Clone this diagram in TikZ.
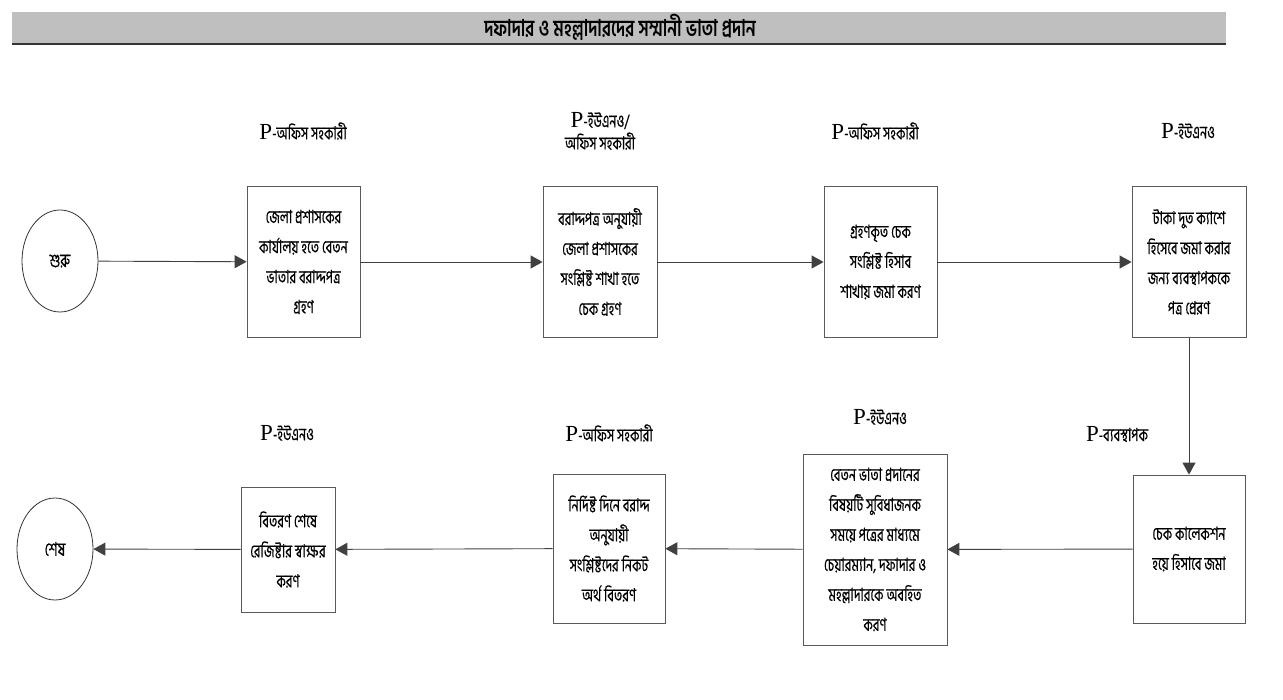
\documentclass[tikz,border=0pt]{standalone}
\usepackage{fontspec}
\setmainfont{Liberation Serif}
\newfontfamily\bn[Script=Bengali,FakeStretch=0.7,FakeBold=0.4]{Hind Siliguri}
\newfontfamily\bntitle[Script=Bengali,FakeStretch=0.74]{Hind Siliguri}
\usetikzlibrary{arrows.meta,shapes.geometric}
\newcommand\pmark{{\rmfamily\fontsize{23}{23}\selectfont P}}
\tikzset{
  stepbox/.style={draw=black!65, line width=0.8pt, align=center, inner sep=0pt,
    font=\bn\fontsize{18}{30}\selectfont},
  term/.style={ellipse, draw=black!80, line width=0.8pt, minimum width=76pt, minimum height=102pt,
    inner sep=0pt, font=\bn\fontsize{19}{20}\selectfont},
  lab/.style={align=center, inner sep=0pt, font=\bn\fontsize{18}{22}\selectfont},
  flow/.style={draw=black!75, line width=0.9pt, -{Triangle[length=12pt,width=13pt]}}
}
\begin{document}
\begin{tikzpicture}[x=1pt,y=-1pt]
\useasboundingbox (0,0) rectangle (1283,700);
% title bar
\fill[gray!50] (12,12) rectangle (1226,44);
\draw[black!80, line width=1.5pt] (12,44) -- (1226,44);
\node[inner sep=0pt, font=\bntitle\bfseries\fontsize{23}{24}\selectfont] (title) at (620,27) {দফাদার ও মহল্লাদারদের সম্মানী ভাতা প্রদান};

% top row
\node[term] (start) at (60,261) {শুরু};
\node[stepbox, minimum width=113pt, minimum height=151pt] (b1) at (303.5,262)
  {জেলা প্রশাসকের\\কার্যালয় হতে বেতন\\ভাতার বরাদ্দপত্র\\গ্রহণ};
\node[stepbox, minimum width=114pt, minimum height=151pt] (b2) at (600,262)
  {বরাদ্দপত্র অনুযায়ী\\জেলা প্রশাসকের\\সংশ্লিষ্ট শাখা হতে\\চেক গ্রহণ};
\node[stepbox, minimum width=113pt, minimum height=151pt] (b3) at (880.5,262)
  {গ্রহণকৃত চেক\\সংশ্লিষ্ট হিসাব\\শাখায় জমা করণ};
\node[stepbox, minimum width=114pt, minimum height=151pt] (b4) at (1189,262)
  {টাকা দুত ক্যাশে\\হিসেবে জমা করার\\জন্য ব্যবস্থাপককে\\পত্র প্রেরণ};

% bottom row
\node[stepbox, minimum width=112pt, minimum height=148pt] (b5) at (1189,549)
  {চেক কালেকশন\\হয়ে হিসাবে জমা};
\node[stepbox, minimum width=144pt, minimum height=191pt] (b6) at (875,549.5)
  {বেতন ভাতা প্রদানের\\বিষয়টি সুবিধাজনক\\সময়ে পত্রের মাধ্যমে\\চেয়ারম্যান, দফাদার ও\\মহল্লাদারকে অবহিত\\করণ};
\node[stepbox, minimum width=112pt, minimum height=149pt] (b7) at (609,548.5)
  {নির্দিষ্ট দিনে বরাদ্দ\\অনুযায়ী\\সংশ্লিষ্টদের নিকট\\অর্থ বিতরণ};
\node[stepbox, minimum width=94pt, minimum height=125pt] (b8) at (288,549.5)
  {বিতরণ শেষে\\রেজিষ্টার স্বাক্ষর\\করণ};
\node[term] (end) at (55,549) {শেষ};

% role labels
\node[lab] (l1) at (303,131) {\pmark-অফিস সহকারী};
\node[lab] (l2) at (600,131) {\pmark-ইউএনও/\\অফিস সহকারী};
\node[lab] (l3) at (875,131) {\pmark-অফিস সহকারী};
\node[lab] (l4) at (1188,131) {\pmark-ইউএনও};
\node[lab] (l5) at (1117,434) {\pmark-ব্যবস্থাপক};
\node[lab] (l6) at (880,417) {\pmark-ইউএনও};
\node[lab] (l7) at (609,433) {\pmark-অফিস সহকারী};
\node[lab] (l8) at (287,433) {\pmark-ইউএনও};

% connectors
\draw[flow] (start) -- (b1);
\draw[flow] (b1) -- (b2);
\draw[flow] (b2) -- (b3);
\draw[flow] (b3) -- (b4);
\draw[flow] (b4) -- (b5);
\draw[flow] (b5) -- (b6);
\draw[flow] (b6) -- (b7);
\draw[flow] (b7) -- (b8);
\draw[flow] (b8) -- (end);
\end{tikzpicture}
\end{document}
